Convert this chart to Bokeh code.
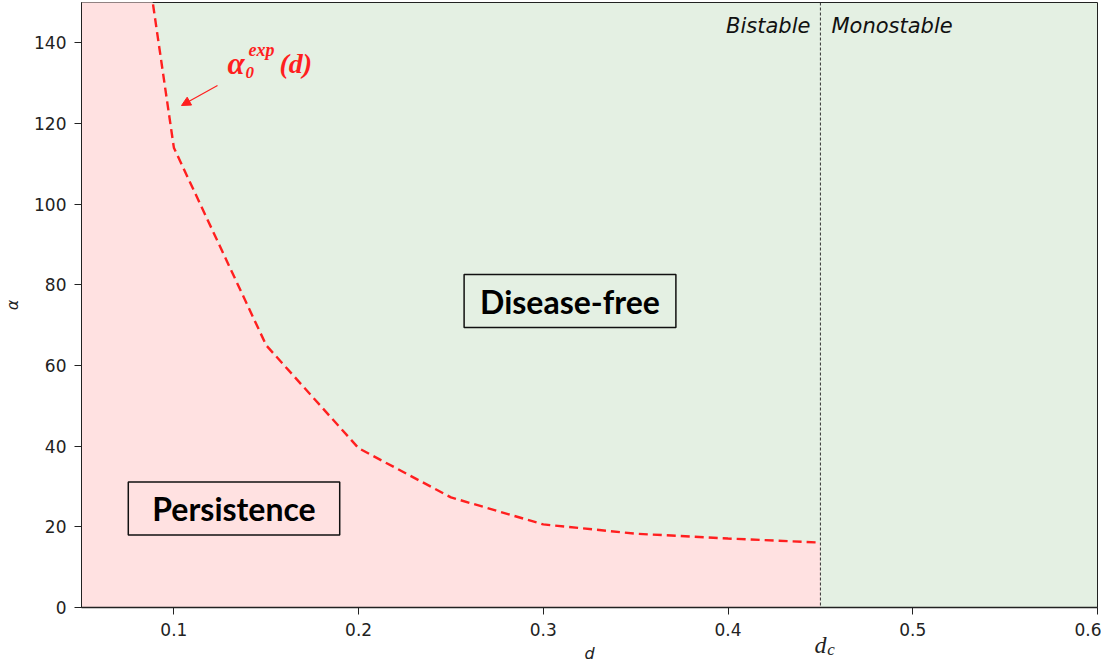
from bokeh.plotting import figure
from bokeh.models import Range1d, FixedTicker, Label, Arrow, NormalHead, Span, LinearAxis
from bokeh.embed import file_html
from bokeh.resources import INLINE

# ---- data ----
d_vals = [0.08, 0.10, 0.15, 0.20, 0.25, 0.30, 0.35, 0.40, 0.45]
alpha_vals = [177.0, 114.0, 65.0, 39.5, 27.3, 20.6, 18.3, 17.1, 16.1]
d_c = 0.45
x_ticks = [0.1, 0.2, 0.3, 0.4, 0.5, 0.6]
y_ticks = [0, 20, 40, 60, 80, 100, 120, 140]
x_lo, x_hi = 0.05, 0.6
y_lo, y_hi = 0, 150

PINK = "#FFE1E1"
GREEN = "#E4F0E3"
RED = "#FF1F1F"
INK = "#222222"

# helper: page pixel -> data coordinates (layout only; frame spans x 81..1097, y 2..607)
def dx(px):
    return x_lo + (px - 81.0) / ((1097.0 - 81.0) / (x_hi - x_lo))

def ay(py):
    return (607.0 - py) / ((607.0 - 2.0) / (y_hi - y_lo))

p = figure(width=1101, height=666, output_backend="svg", toolbar_location=None,
           x_range=Range1d(x_lo, x_hi), y_range=Range1d(y_lo, y_hi),
           min_border_left=73, min_border_right=4, min_border_top=2, min_border_bottom=59)
p.background_fill_color = GREEN
p.border_fill_color = "white"
p.outline_line_color = INK
p.outline_line_width = 1
p.xgrid.grid_line_color = None
p.ygrid.grid_line_color = None

# pink region below the threshold curve
px_poly = [x_lo] + d_vals + [d_c, x_lo]
py_poly = [y_hi] + alpha_vals + [y_lo, y_lo]
p.patch(px_poly, py_poly, fill_color=PINK, line_color=None)

# threshold curve
p.line(d_vals, alpha_vals, line_color=RED, line_width=2.4, line_dash="9 5")

# critical d
p.add_layout(Span(location=d_c, dimension="height", line_color="#333333",
                  line_width=1, line_dash="3 2"))

# axes styling
for ax in (p.xaxis[0], p.yaxis[0]):
    ax.major_label_text_font = "DejaVu Sans"
    ax.major_label_text_font_size = "17px"
    ax.major_label_text_color = INK
    ax.axis_line_color = INK
    ax.major_tick_line_color = INK
    ax.minor_tick_line_color = None
    ax.major_tick_out = 7
    ax.major_tick_in = 0
    ax.axis_label_text_font = "DejaVu Sans"
    ax.axis_label_text_font_style = "italic"
    ax.axis_label_text_font_size = "16px"
    ax.axis_label_text_color = INK
p.xaxis.ticker = FixedTicker(ticks=x_ticks)
p.yaxis.ticker = FixedTicker(ticks=y_ticks)
p.xaxis.major_label_standoff = 8
p.yaxis.major_label_standoff = 8
p.xaxis.axis_line_width = 1.5
p.xaxis.axis_label = "d"
p.xaxis.axis_label_standoff = 5
p.yaxis.axis_label = "α"
p.yaxis.axis_label_standoff = 9

# extra bottom axes carrying the d_c marker (pulled up by negative standoffs)
dc_axis = LinearAxis(ticker=FixedTicker(ticks=[d_c]), major_label_overrides={d_c: "d"},
                     axis_line_color=None, major_tick_line_color=None,
                     minor_tick_line_color=None,
                     major_label_text_font="Liberation Serif",
                     major_label_text_font_style="italic",
                     major_label_text_font_size="24px", major_label_text_color=INK,
                     major_label_standoff=-40)
p.add_layout(dc_axis, "below")
c_pos = d_c + 0.0058
c_axis = LinearAxis(ticker=FixedTicker(ticks=[c_pos]), major_label_overrides={c_pos: "c"},
                    axis_line_color=None, major_tick_line_color=None,
                    minor_tick_line_color=None,
                    major_label_text_font="Liberation Serif",
                    major_label_text_font_style="italic",
                    major_label_text_font_size="17px", major_label_text_color=INK,
                    major_label_standoff=-32)
p.add_layout(c_axis, "below")

# region labels
for txt, off, align in [("Bistable", 10, "right"), ("Monostable", 11, "left")]:
    p.add_layout(Label(x=d_c, y=y_hi, x_offset=(-off if align == "right" else off),
                       y_offset=-23, text=txt, text_align=align,
                       text_baseline="alphabetic", text_font="DejaVu Sans",
                       text_font_style="italic", text_font_size="21px", text_color="#111111"))

for txt, cx, cy, padx in [("Disease-free", 569.5, 300.5, 16), ("Persistence", 233.5, 508.0, 24)]:
    p.add_layout(Label(x=dx(cx), y=ay(cy), text=txt, text_align="center",
                       text_baseline="middle", text_font="Lato", text_font_style="bold",
                       text_font_size="32px", text_color="#000000",
                       border_line_color="#111111", border_line_width=1.5,
                       padding=(padx, 7)))

# curve annotation alpha_0^exp(d)
for txt, xp, yp, size in [("α", 227, 63, "31px"), ("0", 245, 72, "17px"),
                          ("exp", 248, 49, "18px"), ("(d)", 279, 63, "28px")]:
    p.add_layout(Label(x=dx(xp), y=ay(yp), text=txt, text_align="left",
                       text_baseline="alphabetic", text_font="Liberation Serif",
                       text_font_style="bold italic", text_font_size=size, text_color=RED))
p.add_layout(Arrow(end=NormalHead(size=9, fill_color=RED, line_color=RED),
                   x_start=dx(217), y_start=ay(85), x_end=dx(181), y_end=ay(105),
                   line_color=RED, line_width=1.2))

open("out.html", "w").write(file_html(p, INLINE))
